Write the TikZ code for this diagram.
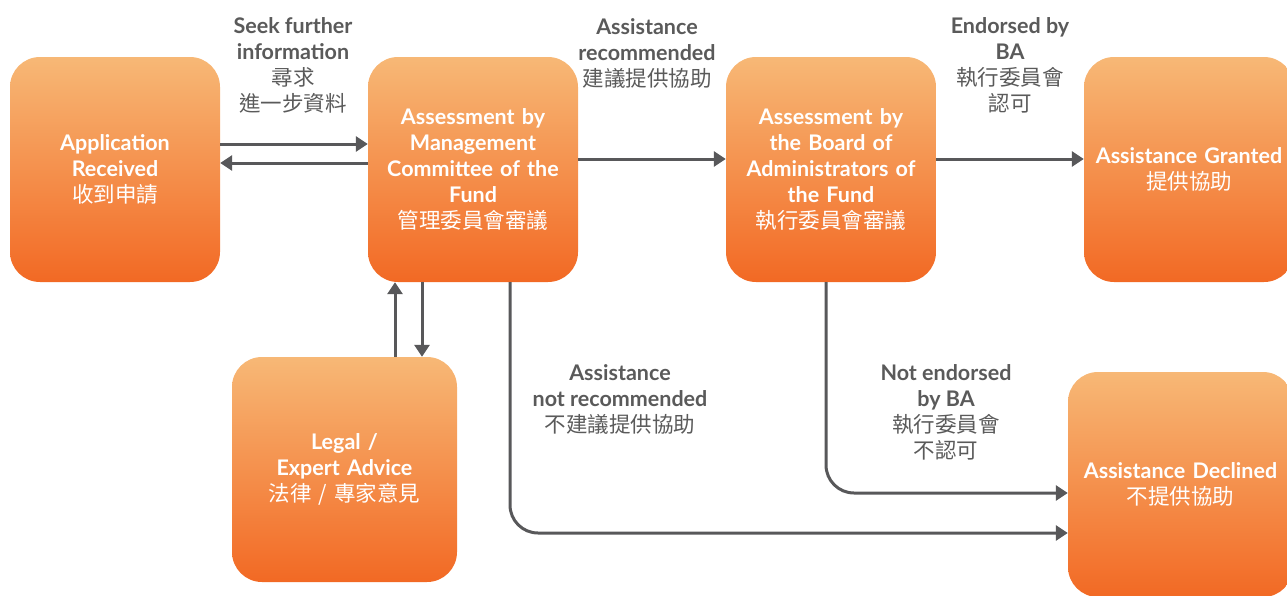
\documentclass[tikz,border=0pt]{standalone}
\usepackage{fontspec}
\setmainfont{Lato}
\newfontfamily\cjk{Noto Sans CJK TC}
\usepackage{tikz}
\usetikzlibrary{arrows.meta,positioning,calc}
\definecolor{boxTop}{HTML}{F7B876}
\definecolor{boxBottom}{HTML}{F26924}
\definecolor{labelGrey}{HTML}{5A5A5A}
\definecolor{lineGrey}{HTML}{58585A}
\newcommand{\zh}[1]{{\cjk\mdseries #1}}
\begin{document}
\begin{tikzpicture}[x=1pt,y=-1pt,>={Triangle[length=12pt,width=15pt]}]

    \tikzstyle{commonNode}=[font=\fontsize{21.5}{26}\selectfont\bfseries, align=center]
    \tikzstyle{stage}=[commonNode, rectangle, rounded corners=30pt, top color=boxTop, bottom color=boxBottom, text=white, minimum width=210pt, minimum height=225pt, text width=208pt, inner sep=0pt]
    \tikzstyle{wideStage}=[stage, minimum width=225pt, text width=222pt]
    \tikzstyle{note}=[commonNode, text=labelGrey]
    \tikzstyle{flow}=[->, line width=3pt, draw=lineGrey, rounded corners=28pt]

    \useasboundingbox (0,0) rectangle (1287,595);

    % Stages
    \node at (115, 169.5)    [stage]     (APP)   {Application\\Received\\\zh{收到申請}};
    \node at (473, 169.5)    [stage]     (MC)    {Assessment by\\Management\\Committee of the\\Fund\\\zh{管理委員會審議}};
    \node at (831, 169.5)    [stage]     (BA)    {Assessment by\\the Board of\\Administrators of\\the Fund\\\zh{執行委員會審議}};
    \node at (1189, 169.5)   [stage]     (GR)    {Assistance Granted\\\zh{提供協助}};
    \node at (344.5, 469.5)  [wideStage] (LEG)   {Legal /\\Expert Advice\\\zh{法律 / 專家意見}};
    \node at (1180.5, 484.5) [wideStage] (DEC)   {Assistance Declined\\\zh{不提供協助}};

    % Labels
    \node at (293, 65)  [note] (seekInfo)  {Seek further\\information\\\zh{尋求}\\\zh{進一步資料}};
    \node at (647, 53)  [note] (recd)      {Assistance\\recommended\\\zh{建議提供協助}};
    \node at (1010, 65) [note] (endorsed)  {Endorsed by\\BA\\\zh{執行委員會}\\\zh{認可}};
    \node at (620, 399) [note] (notRecd)   {Assistance\\not recommended\\\zh{不建議提供協助}};
    \node at (946, 412) [note] (notEnd)    {Not endorsed\\by BA\\\zh{執行委員會}\\\zh{不認可}};

    % Connectors
    \draw [flow] ([yshift=25.5pt]APP.east) -- ([yshift=25.5pt]APP.east -| MC.west);
    \draw [flow] ([yshift=6.5pt]MC.west) -- ([yshift=6.5pt]MC.west -| APP.east);
    \draw [flow] ([yshift=10.5pt]MC.east) -- ([yshift=10.5pt]BA.west);
    \draw [flow] ([yshift=10.5pt]BA.east) -- ([yshift=10.5pt]GR.west);
    \draw [flow] ([xshift=50.5pt]LEG.north) -- ([xshift=50.5pt]LEG.north |- MC.south);
    \draw [flow] ([xshift=-51pt]MC.south) -- ([xshift=-51pt]MC.south |- LEG.north);
    \draw [flow] ([xshift=37pt]MC.south) |- ([yshift=-48.5pt]DEC.west);
    \draw [flow] ([xshift=-5pt]BA.south) |- ([yshift=-8.5pt]DEC.west);
\end{tikzpicture}
\end{document}
